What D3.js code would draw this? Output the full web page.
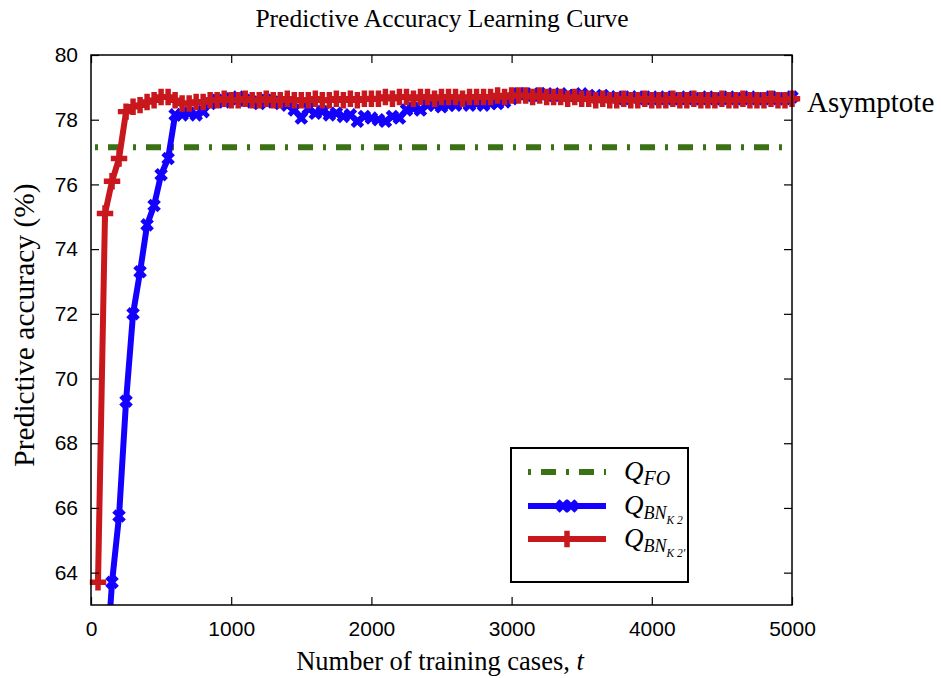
<!DOCTYPE html>
<html>
<head>
<meta charset="utf-8">
<script src="https://cdn.jsdelivr.net/npm/d3@7"></script>
<style>
  body { margin: 0; background: #fff; }
  svg { display: block; }
</style>
</head>
<body>
<script>
// training cases, step 50
var cases = d3.range(50, 5001, 50);

// predictive accuracy (%) per series
var qFO = 77.15;
var qBNK2 = [
  55.0, 60.5, 63.7, 65.75, 69.3, 72.0, 73.3, 74.75, 75.35, 76.3,
  76.8, 78.15, 78.15, 78.2, 78.15, 78.25, 78.5, 78.6, 78.55, 78.65,
  78.7, 78.6, 78.55, 78.5, 78.6, 78.55, 78.5, 78.45, 78.3, 78.05,
  78.35, 78.2, 78.25, 78.15, 78.2, 78.1, 78.15, 77.95, 78.1, 78.05,
  78.0, 77.95, 78.1, 78.05, 78.3, 78.35, 78.3, 78.45, 78.45, 78.4,
  78.45, 78.45, 78.5, 78.45, 78.5, 78.45, 78.5, 78.5, 78.55, 78.65,
  78.8, 78.8, 78.75, 78.8, 78.8, 78.75, 78.8, 78.75, 78.75, 78.8,
  78.75, 78.7, 78.75, 78.7, 78.7, 78.65, 78.7, 78.7, 78.65, 78.7,
  78.65, 78.7, 78.65, 78.65, 78.7, 78.65, 78.65, 78.7, 78.65, 78.65,
  78.7, 78.65, 78.65, 78.7, 78.65, 78.65, 78.7, 78.65, 78.65, 78.7
];
var qBNK2p = [
  63.7, 75.1, 76.1, 76.8, 78.25, 78.4, 78.45, 78.55, 78.6, 78.7,
  78.7, 78.6, 78.5, 78.5, 78.55, 78.55, 78.6, 78.6, 78.65, 78.6,
  78.6, 78.65, 78.6, 78.6, 78.65, 78.6, 78.6, 78.65, 78.6, 78.6,
  78.6, 78.65, 78.6, 78.6, 78.65, 78.6, 78.65, 78.6, 78.65, 78.65,
  78.65, 78.7, 78.65, 78.7, 78.7, 78.65, 78.7, 78.7, 78.65, 78.7,
  78.7, 78.7, 78.65, 78.7, 78.7, 78.7, 78.7, 78.75, 78.7, 78.75,
  78.75, 78.75, 78.7, 78.75, 78.7, 78.7, 78.7, 78.65, 78.7, 78.65,
  78.65, 78.6, 78.65, 78.6, 78.6, 78.65, 78.6, 78.6, 78.65, 78.6,
  78.6, 78.6, 78.65, 78.6, 78.6, 78.65, 78.6, 78.6, 78.6, 78.65,
  78.6, 78.6, 78.65, 78.6, 78.6, 78.6, 78.65, 78.6, 78.6, 78.65
];
var xTicks = [0, 1000, 2000, 3000, 4000, 5000];
var yTicks = [64, 66, 68, 70, 72, 74, 76, 78, 80];

var W = 941, H = 678;
var padL = 91, padT = 55, plotW = 701, plotH = 550;

var blue = '#1400ff', red = '#c8171d', green = '#3a7114';
var serif = '"Liberation Serif", "DejaVu Serif", serif';
var sans = '"Liberation Sans", Arial, sans-serif';

var svg = d3.select('body').append('svg')
  .attr('width', W)
  .attr('height', H);

var x = d3.scaleLinear().domain([0, 5000]).range([0, plotW]);
var y = d3.scaleLinear().domain([63, 80]).range([plotH, 0]);

var g = svg.append('g').attr('transform', 'translate(' + padL + ',' + padT + ')');

svg.append('defs').append('clipPath').attr('id', 'plotclip')
  .append('rect').attr('x', -20).attr('y', 0).attr('width', plotW + 40).attr('height', plotH);

var plot = g.append('g').attr('clip-path', 'url(#plotclip)');

// Q_FO reference line
plot.append('line')
  .attr('x1', x(0) + 4).attr('x2', x(5000))
  .attr('y1', y(qFO)).attr('y2', y(qFO))
  .attr('stroke', green).attr('stroke-width', 6)
  .attr('stroke-dasharray', '3,10,15,10');

var line = d3.line().x(function (d) { return x(d[0]); }).y(function (d) { return y(d[1]); });

var xMark = d3.symbol().type(d3.symbolCross).size(115);
var plusMark = d3.symbol().type(d3.symbolCross).size(150);

function drawSeries(vals, color, marker, rot) {
  var pts = cases.map(function (c, i) { return [c, vals[i]]; });
  plot.append('path')
    .attr('d', line(pts))
    .attr('fill', 'none')
    .attr('stroke', color)
    .attr('stroke-width', 6)
    .attr('stroke-linejoin', 'round');
  plot.selectAll(null).data(pts).enter().append('path')
    .attr('d', marker)
    .attr('fill', color)
    .attr('transform', function (d) {
      return 'translate(' + x(d[0]) + ',' + y(d[1]) + ') rotate(' + rot + ')';
    });
}

drawSeries(qBNK2, blue, xMark, 45);
drawSeries(qBNK2p, red, plusMark, 0);

// frame
g.append('rect')
  .attr('width', plotW).attr('height', plotH)
  .attr('fill', 'none').attr('stroke', '#000').attr('stroke-width', 1.5);

// axes with inward ticks
var fmt = d3.format('d');
var xAxis = g.append('g').attr('transform', 'translate(0,' + plotH + ')')
  .call(d3.axisBottom(x).tickValues(xTicks).tickSize(-8).tickPadding(16).tickFormat(fmt));
var xAxisTop = g.append('g')
  .call(d3.axisTop(x).tickValues(xTicks).tickSize(-8).tickFormat(''));
var yAxis = g.append('g')
  .call(d3.axisLeft(y).tickValues(yTicks).tickSize(-8).tickPadding(13).tickFormat(fmt));
var yAxisR = g.append('g').attr('transform', 'translate(' + plotW + ',0)')
  .call(d3.axisRight(y).tickValues(yTicks).tickSize(-8).tickFormat(''));

[xAxis, xAxisTop, yAxis, yAxisR].forEach(function (a) {
  a.select('.domain').remove();
  a.selectAll('line').attr('stroke', '#000').attr('stroke-width', 1.2);
  a.selectAll('text').attr('fill', '#000').style('font-family', sans).style('font-size', '21px');
});

// titles
svg.append('text')
  .attr('x', 442).attr('y', 27)
  .attr('text-anchor', 'middle')
  .style('font-family', serif).style('font-size', '25.5px')
  .text('Predictive Accuracy Learning Curve');

var xl = svg.append('text')
  .attr('x', 440).attr('y', 670)
  .attr('text-anchor', 'middle')
  .style('font-family', serif).style('font-size', '26.5px');
xl.append('tspan').text('Number of training cases, ');
xl.append('tspan').style('font-style', 'italic').text('t');

svg.append('text')
  .attr('transform', 'translate(34,' + 325 + ') rotate(-90)')
  .attr('text-anchor', 'middle')
  .style('font-family', serif).style('font-size', '29.5px')
  .text('Predictive accuracy (%)');

svg.append('text')
  .attr('x', 807).attr('y', 112)
  .style('font-family', serif).style('font-size', '29px')
  .text('Asymptote');

// legend
var lg = svg.append('g').attr('transform', 'translate(511,448)');
lg.append('rect')
  .attr('width', 177).attr('height', 134)
  .attr('fill', '#fff').attr('stroke', '#000').attr('stroke-width', 2);

var legendRows = [
  { color: green, sub: 'FO', sub2: null, y: 24 },
  { color: blue, sub: 'BN', sub2: 'K 2', y: 58 },
  { color: red, sub: 'BN', sub2: "K 2'", y: 91 }
];

legendRows.forEach(function (r, i) {
  var ln = lg.append('line')
    .attr('x1', 17).attr('x2', 95)
    .attr('y1', r.y).attr('y2', r.y)
    .attr('stroke', r.color).attr('stroke-width', 6);
  if (i === 0) ln.attr('stroke-dasharray', '3,10,15,10');
  if (i === 1) {
    [52, 60].forEach(function (mx) {
      lg.append('path').attr('d', xMark).attr('fill', blue)
        .attr('transform', 'translate(' + mx + ',' + r.y + ') rotate(45)');
    });
  }
  if (i === 2) {
    lg.append('path').attr('d', plusMark).attr('fill', red)
      .attr('transform', 'translate(56,' + r.y + ')');
  }
  var t = lg.append('text')
    .attr('x', 113).attr('y', r.y + 8)
    .style('font-family', serif).style('font-style', 'italic').style('font-size', '27px');
  t.append('tspan').text('Q');
  t.append('tspan').attr('dy', 5).style('font-size', r.sub2 ? '18px' : '20px').text(r.sub);
  if (r.sub2) {
    t.append('tspan').attr('dy', 5).style('font-size', '11.5px').text(r.sub2);
  }
});
</script>
</body>
</html>
